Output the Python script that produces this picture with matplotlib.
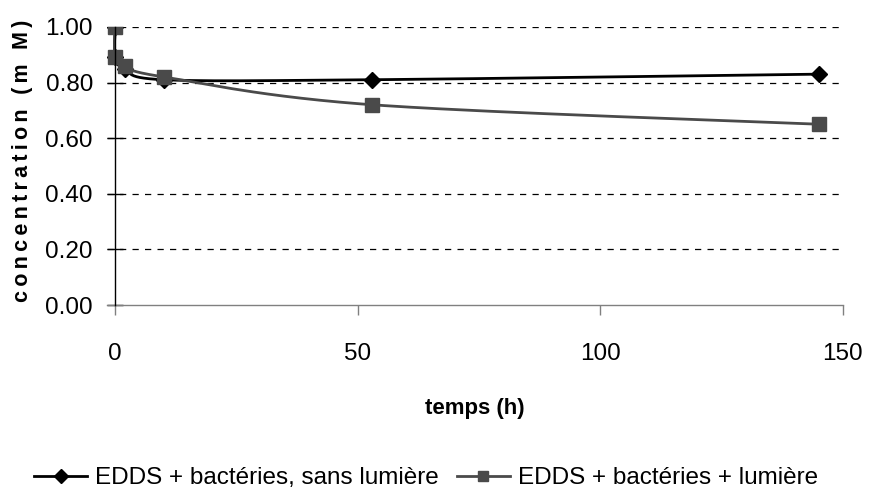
import numpy as np
import matplotlib.pyplot as plt

plt.rcParams['font.family'] = ['Liberation Sans', 'DejaVu Sans']

# temps (h) et concentration (mM)
temps = [0, 0, 2, 10, 53, 145]
sans_lumiere = [1.00, 0.89, 0.85, 0.81, 0.81, 0.83]
avec_lumiere = [1.00, 0.89, 0.86, 0.82, 0.72, 0.65]

label_sans = "EDDS + bactéries, sans lumière"
label_avec = "EDDS + bactéries + lumière"
titre_y = "concentration (m M)"


def lisse(x, y, n=30):
    # courbe de Catmull-Rom passant par les points (ligne lissée)
    p = np.column_stack([x, y]).astype(float)
    p = np.vstack([p[0], p, p[-1]])
    out = []
    for i in range(1, len(p) - 2):
        p0, p1, p2, p3 = p[i - 1], p[i], p[i + 1], p[i + 2]
        t = np.linspace(0, 1, n)[:, None]
        c = 0.5 * ((2 * p1) + (-p0 + p2) * t + (2 * p0 - 5 * p1 + 4 * p2 - p3) * t ** 2
                   + (-p0 + 3 * p1 - 3 * p2 + p3) * t ** 3)
        out.append(c)
    c = np.vstack(out)
    return c[:, 0], c[:, 1]


fig = plt.figure(figsize=(8.69, 4.97), dpi=100)
ax = fig.add_axes([0.123, 0.386, 0.847, 0.560])

gris = '#4a4a4a'
xs, ys = lisse(temps, sans_lumiere)
ax.plot(xs, ys, color='black', lw=2, zorder=3)
ax.plot(temps, sans_lumiere, ls='none', marker='D', ms=8, color='black', zorder=4)
xs, ys = lisse(temps, avec_lumiere)
ax.plot(xs, ys, color=gris, lw=2, zorder=5)
ax.plot(temps, avec_lumiere, ls='none', marker='s', ms=10, color=gris, zorder=6)

ax.set_xlim(-1.7, 150)
ax.set_ylim(0, 1.0)
ax.set_xticks([0, 50, 100, 150])
ax.set_yticks(np.arange(0, 1.01, 0.2))
ax.set_yticklabels(['%.2f' % v for v in np.arange(0, 1.01, 0.2)])

for v in np.arange(0.2, 1.01, 0.2):
    ax.axhline(v, color='black', lw=0.9, ls=(0, (5, 5)), zorder=1)

for s in ['top', 'right']:
    ax.spines[s].set_visible(False)
ax.spines['left'].set_position(('data', 0))
ax.spines['left'].set_color('black')
ax.spines['bottom'].set_color('#808080')
ax.spines['left'].set_linewidth(1)
ax.spines['bottom'].set_linewidth(1)
ax.spines['left'].set_zorder(7)

ax.tick_params(axis='y', direction='inout', length=12, width=1, labelsize=17.5, pad=10)
ax.tick_params(axis='x', direction='out', length=7, width=1, color='#808080', labelsize=17.5, pad=20)

ax.set_xlabel('temps (h)', fontsize=16, fontweight='bold', labelpad=24)
# titre de l'axe y légèrement espacé (espace fine entre les lettres)
ax.set_ylabel('\u2009'.join(titre_y), fontsize=15.5, fontweight='bold')
ax.yaxis.set_label_coords(-0.10, 0.52)

h1, = ax.plot([], [], color='black', lw=2, marker='D', ms=7)
h2, = ax.plot([], [], color=gris, lw=2, marker='s', ms=7)
fig.legend([h1, h2], [label_sans, label_avec], loc='center', bbox_to_anchor=(0.49, 0.038),
           ncol=2, frameon=False, fontsize=17.5, handlelength=2.2, handletextpad=0.3,
           columnspacing=0.75)

fig.savefig('out.png', dpi=100)
